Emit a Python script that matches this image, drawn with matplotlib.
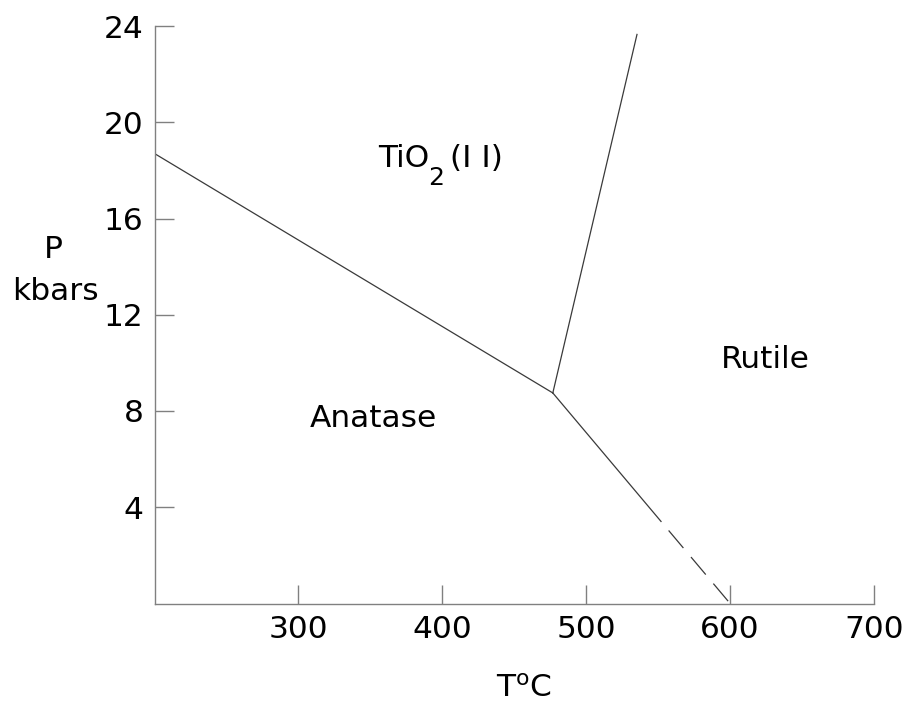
import matplotlib
matplotlib.use("Agg")
import matplotlib.pyplot as plt

# phase boundaries of TiO2 (T in degC, P in kbar)
anatase_ii_T = [200, 476.8]
anatase_ii_P = [18.7, 8.75]

ii_rutile_T = [476.8, 535.3]
ii_rutile_P = [8.75, 23.65]

anatase_rutile_T = [476.8, 552.0]
anatase_rutile_P = [8.75, 3.41]

# extrapolated part (dashed)
extrap_T = [552.0, 600.0]
extrap_P = [3.41, 0.0]

x_ticks = [300, 400, 500, 600, 700]
y_ticks = [4, 8, 12, 16, 20, 24]

# field labels: (text, T, P)
field_labels = [
    ("Anatase", 352.2, 7.32),
    ("Rutile", 624.6, 9.79),
]

plt.rcParams['font.family'] = ['DejaVu Sans']
plt.rcParams['mathtext.fontset'] = 'dejavusans'
plt.rcParams['lines.scale_dashes'] = False

fig = plt.figure(figsize=(9.12, 7.05), dpi=100)
ax = fig.add_axes([154.5 / 912, 1 - 603.5 / 705, (874 - 154.5) / 912, (603.5 - 26) / 705])

line_kw = dict(color='#3a3a3a', lw=0.9)
ax.plot(anatase_ii_T, anatase_ii_P, **line_kw)
ax.plot(ii_rutile_T, ii_rutile_P, **line_kw)
ax.plot(anatase_rutile_T, anatase_rutile_P, **line_kw)
ax.plot(extrap_T, extrap_P, linestyle=(16.5, (16.5, 8.5)), **line_kw)

ax.set_xlim(200, 700)
ax.set_ylim(0, 24)
ax.set_xticks(x_ticks)
ax.set_yticks(y_ticks)
ax.set_xticklabels([str(v) for v in x_ticks])
ax.set_yticklabels([str(v) for v in y_ticks])

for s in ['top', 'right']:
    ax.spines[s].set_visible(False)
for s in ['left', 'bottom']:
    ax.spines[s].set_color('#808080')
    ax.spines[s].set_linewidth(1.0)

ax.tick_params(axis='both', direction='in', length=14, width=1.0,
               color='#808080', labelsize=22.5, labelcolor='black')
ax.tick_params(axis='x', pad=8)
ax.tick_params(axis='y', pad=8)

for txt, t, p in field_labels:
    ax.text(t, p, txt, ha='center', va='baseline', fontsize=22.5)

# TiO2(II) built from pieces so the subscript sits like the original
ax.text(390.8, 18.13, "TiO", ha='right', va='baseline', fontsize=22.5)
ax.text(395.6, 17.38, "2", ha='center', va='baseline', fontsize=18)
ax.text(405.3, 18.13, "(I I)", ha='left', va='baseline', fontsize=22.5)

# axis titles
ax.text(456.5, -3.88, "T$^{\\mathrm{o}}$C", ha='center', va='baseline',
        fontsize=22.5, clip_on=False)
ax.text(129.5, 14.35, "P", ha='center', va='baseline', fontsize=22.5, clip_on=False)
ax.text(131.5, 12.6, "kbars", ha='center', va='baseline', fontsize=22.5, clip_on=False)

fig.savefig("out.png", dpi=100)
